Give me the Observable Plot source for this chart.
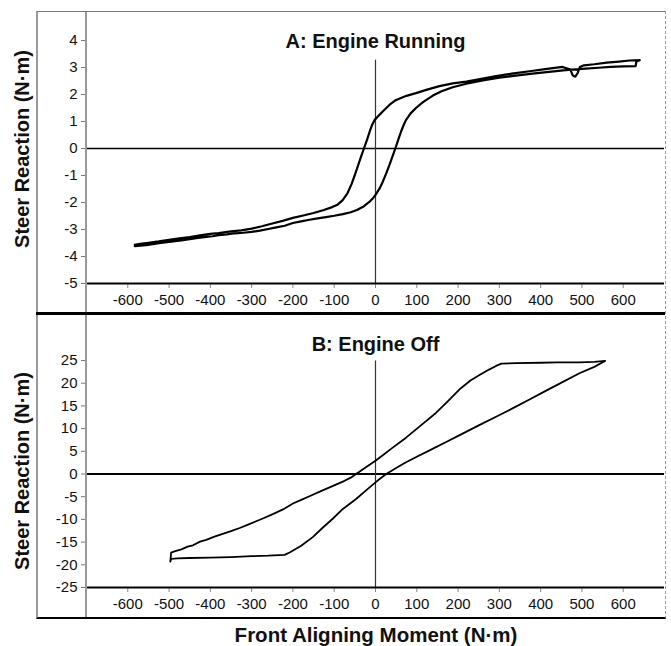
<!DOCTYPE html>
<html>
<head>
<meta charset="utf-8">
<script src="https://cdn.jsdelivr.net/npm/d3@7"></script>
<script src="https://cdn.jsdelivr.net/npm/@observablehq/plot@0.6"></script>
<style>
  body { margin: 0; background: #fff; }
  #page { position: relative; width: 671px; height: 646px; font-family: "Liberation Sans", Arial, sans-serif; }
  #page svg { position: absolute; left: 0; background: transparent; }
  #panelA { top: 12px; }
  #panelB { top: 315px; }
  .box { position: absolute; left: 36px; top: 11px; width: 627px; height: 605px;
         border-top: 1px solid #777; border-left: 2px solid #999; border-right: 1px dashed #999; border-bottom: 2px solid #000; }
  .divider { position: absolute; left: 36px; top: 312px; width: 629px; height: 3px; background: #000; }
  .inner { position: absolute; left: 85px; top: 12px; width: 1.5px; height: 605px; background: #999; }
  .xtitle { position: absolute; left: 0; width: 752px; top: 623px; text-align: center;
            font: bold 20.5px "Liberation Sans", Arial, sans-serif; color: #111; }
</style>
</head>
<body>
<div id="page">
  <div id="holderA"></div>
  <div id="holderB"></div>
  <div class="box"></div>
  <div class="inner"></div>
  <div class="divider"></div>
  <div class="xtitle">Front Aligning Moment (N·m)</div>
</div>
<script>
// Shared x axis: front aligning moment (N·m)
const xTicks = [-600, -500, -400, -300, -200, -100, 0, 100, 200, 300, 400, 500, 600];

// Panel A — engine running: hysteresis loop, rightward sweep then return sweep
const runX = [
  -583, -570, -555, -540, -520, -505, -490, -470, -450, -430, -410, -395, -380, -360, -340, -320, -300,
  -280, -260, -240, -220, -200, -180, -160, -140, -120, -100, -79, -60, -45, -30, -15, -5, 0, 10, 18,
  26, 34, 41, 48, 55, 62, 68, 74, 85, 98, 115, 139, 160, 187, 220, 260, 300, 340, 380, 420, 460, 500,
  540, 570, 600, 630, 632, 640,
  615, 590, 560, 530, 505, 495, 490, 484, 478, 472, 453, 420, 373, 330, 292, 250, 220, 187, 155, 125,
  98, 75, 50, 35, 18, 8, -2, -8, -14, -21, -28, -35, -42, -50, -58, -68, -80, -92, -105, -125, -150, -175,
  -200, -225, -250, -275, -300, -325, -350, -380, -400, -425, -450, -475, -500, -525, -550, -570, -583
];
const runY = [
  -3.62, -3.60, -3.58, -3.54, -3.50, -3.47, -3.44, -3.40, -3.36, -3.31, -3.27, -3.25, -3.21, -3.18,
  -3.14, -3.12, -3.09, -3.04, -2.98, -2.92, -2.86, -2.76, -2.70, -2.64, -2.59, -2.54, -2.49, -2.43,
  -2.36, -2.28, -2.16, -1.98, -1.82, -1.72, -1.48, -1.22, -0.92, -0.60, -0.30, 0.00, 0.32, 0.63, 0.86,
  1.06, 1.30, 1.50, 1.72, 1.96, 2.12, 2.27, 2.40, 2.52, 2.62, 2.70, 2.77, 2.84, 2.90, 2.95, 2.99, 3.02,
  3.04, 3.05, 3.22, 3.27,
  3.26, 3.22, 3.18, 3.12, 3.08, 3.02, 2.80, 2.66, 2.70, 2.92, 3.02, 2.96, 2.86, 2.77, 2.68, 2.56, 2.48,
  2.41, 2.31, 2.18, 2.05, 1.95, 1.80, 1.63, 1.38, 1.22, 1.06, 0.88, 0.63, 0.30, 0.00, -0.30, -0.62,
  -0.98, -1.32, -1.66, -1.92, -2.08, -2.17, -2.28, -2.39, -2.48, -2.57, -2.68, -2.78, -2.88, -2.97, -3.03,
  -3.07, -3.13, -3.16, -3.22, -3.28, -3.33, -3.38, -3.44, -3.49, -3.53, -3.57
];

// Panel B — engine off: return sweep from the top-right corner, then rightward sweep
const offX = [
  556, 530, 494, 454, 410, 373, 333, 292, 250, 211, 170, 131, 100, 74, 50, 26, 10, 0, -20, -47, -79,
  -103, -130, -152, -180, -208, -220, -260, -300, -350, -400, -450, -480, -495, -497,
  -495, -485, -470, -455, -442, -425, -410, -390, -370, -350, -329, -310, -289, -270, -250, -224,
  -200, -180, -160, -128, -100, -75, -60, -47, -25, 0, 20, 40, 74, 110, 147, 175, 203, 230, 252, 275,
  292, 305, 340, 400, 440, 494, 530, 556
];
const offY = [
  24.9, 23.6, 22.2, 20.3, 18.2, 16.4, 14.5, 12.6, 10.7, 8.9, 7.0, 5.2, 3.8, 2.6, 1.3, 0.0, -1.1, -1.85,
  -3.4, -5.5, -7.7, -9.8, -12.0, -13.9, -15.8, -17.3, -17.8, -18.0, -18.1, -18.3, -18.4, -18.5, -18.6,
  -18.7, -19.3,
  -17.3, -17.0, -16.6, -16.0, -15.7, -14.9, -14.5, -13.8, -13.2, -12.6, -11.9, -11.2, -10.4, -9.7,
  -8.9, -7.8, -6.5, -5.7, -4.9, -3.6, -2.5, -1.5, -0.8, 0.0, 1.4, 2.9, 4.3, 5.7, 8.0, 10.7, 13.5, 16.0,
  18.6, 20.6, 21.8, 23.0, 23.8, 24.3, 24.4, 24.5, 24.6, 24.6, 24.7, 24.9
];

const yTicksA = [-5, -4, -3, -2, -1, 0, 1, 2, 3, 4];
const yTicksB = [-25, -20, -15, -10, -5, 0, 5, 10, 15, 20, 25];

const fmt = d => String(d);
const font = '"Liberation Sans", Arial, sans-serif';

function panel({xs, ys, yTicks, title, height, marginTop, marginBottom, titleDy, ytitleDy, zeroWidth, lineWidth}) {
  const pts = xs.map((x, i) => ({x, y: ys[i]}));
  const y0 = yTicks[0];
  return Plot.plot({
    width: 664,
    height,
    marginLeft: 86,
    marginRight: 0,
    marginTop,
    marginBottom,
    style: {fontFamily: font, fontSize: "15px", color: "#111", background: "transparent", overflow: "visible"},
    x: {domain: [-700, 700], label: null},
    y: {domain: [y0, yTicks[yTicks.length - 1]], label: null},
    marks: [
      Plot.axisX({ticks: xTicks, tickFormat: fmt, tickSize: 5, tickPadding: 6, stroke: "#888", fill: "#111", label: null}),
      Plot.axisY({ticks: yTicks, tickFormat: fmt, tickSize: 5, tickPadding: 4, stroke: "#777", fill: "#111", label: null}),
      Plot.ruleY([0], {stroke: "#000", strokeWidth: zeroWidth}),
      Plot.ruleX([0], {y1: y0, y2: d3.max(ys), stroke: "#333", strokeWidth: 1.2}),
      Plot.ruleY([y0], {stroke: "#000", strokeWidth: 2}),
      Plot.line(pts, {x: "x", y: "y", stroke: "#000", strokeWidth: lineWidth, strokeLinejoin: "round", curve: "linear"}),
      Plot.text([title], {frameAnchor: "top", dy: titleDy, fontWeight: "bold", fontSize: 20, fill: "#111"}),
      Plot.text(["Steer Reaction (N·m)"], {frameAnchor: "left", textAnchor: "middle", dx: -64, dy: ytitleDy,
        rotate: -90, fontWeight: "bold", fontSize: 20, fill: "#111"})
    ]
  });
}

const a = panel({xs: runX, ys: runY, yTicks: yTicksA, title: "A: Engine Running", height: 300,
  marginTop: 28, marginBottom: 29, titleDy: -7, ytitleDy: -13, zeroWidth: 1.4, lineWidth: 2.2});
a.id = "panelA";
document.getElementById("holderA").appendChild(a);

const b = panel({xs: offX, ys: offY, yTicks: yTicksB, title: "B: Engine Off", height: 302,
  marginTop: 45, marginBottom: 30, titleDy: -24, ytitleDy: -3, zeroWidth: 2, lineWidth: 1.8});
b.id = "panelB";
document.getElementById("holderB").appendChild(b);
</script>
</body>
</html>
